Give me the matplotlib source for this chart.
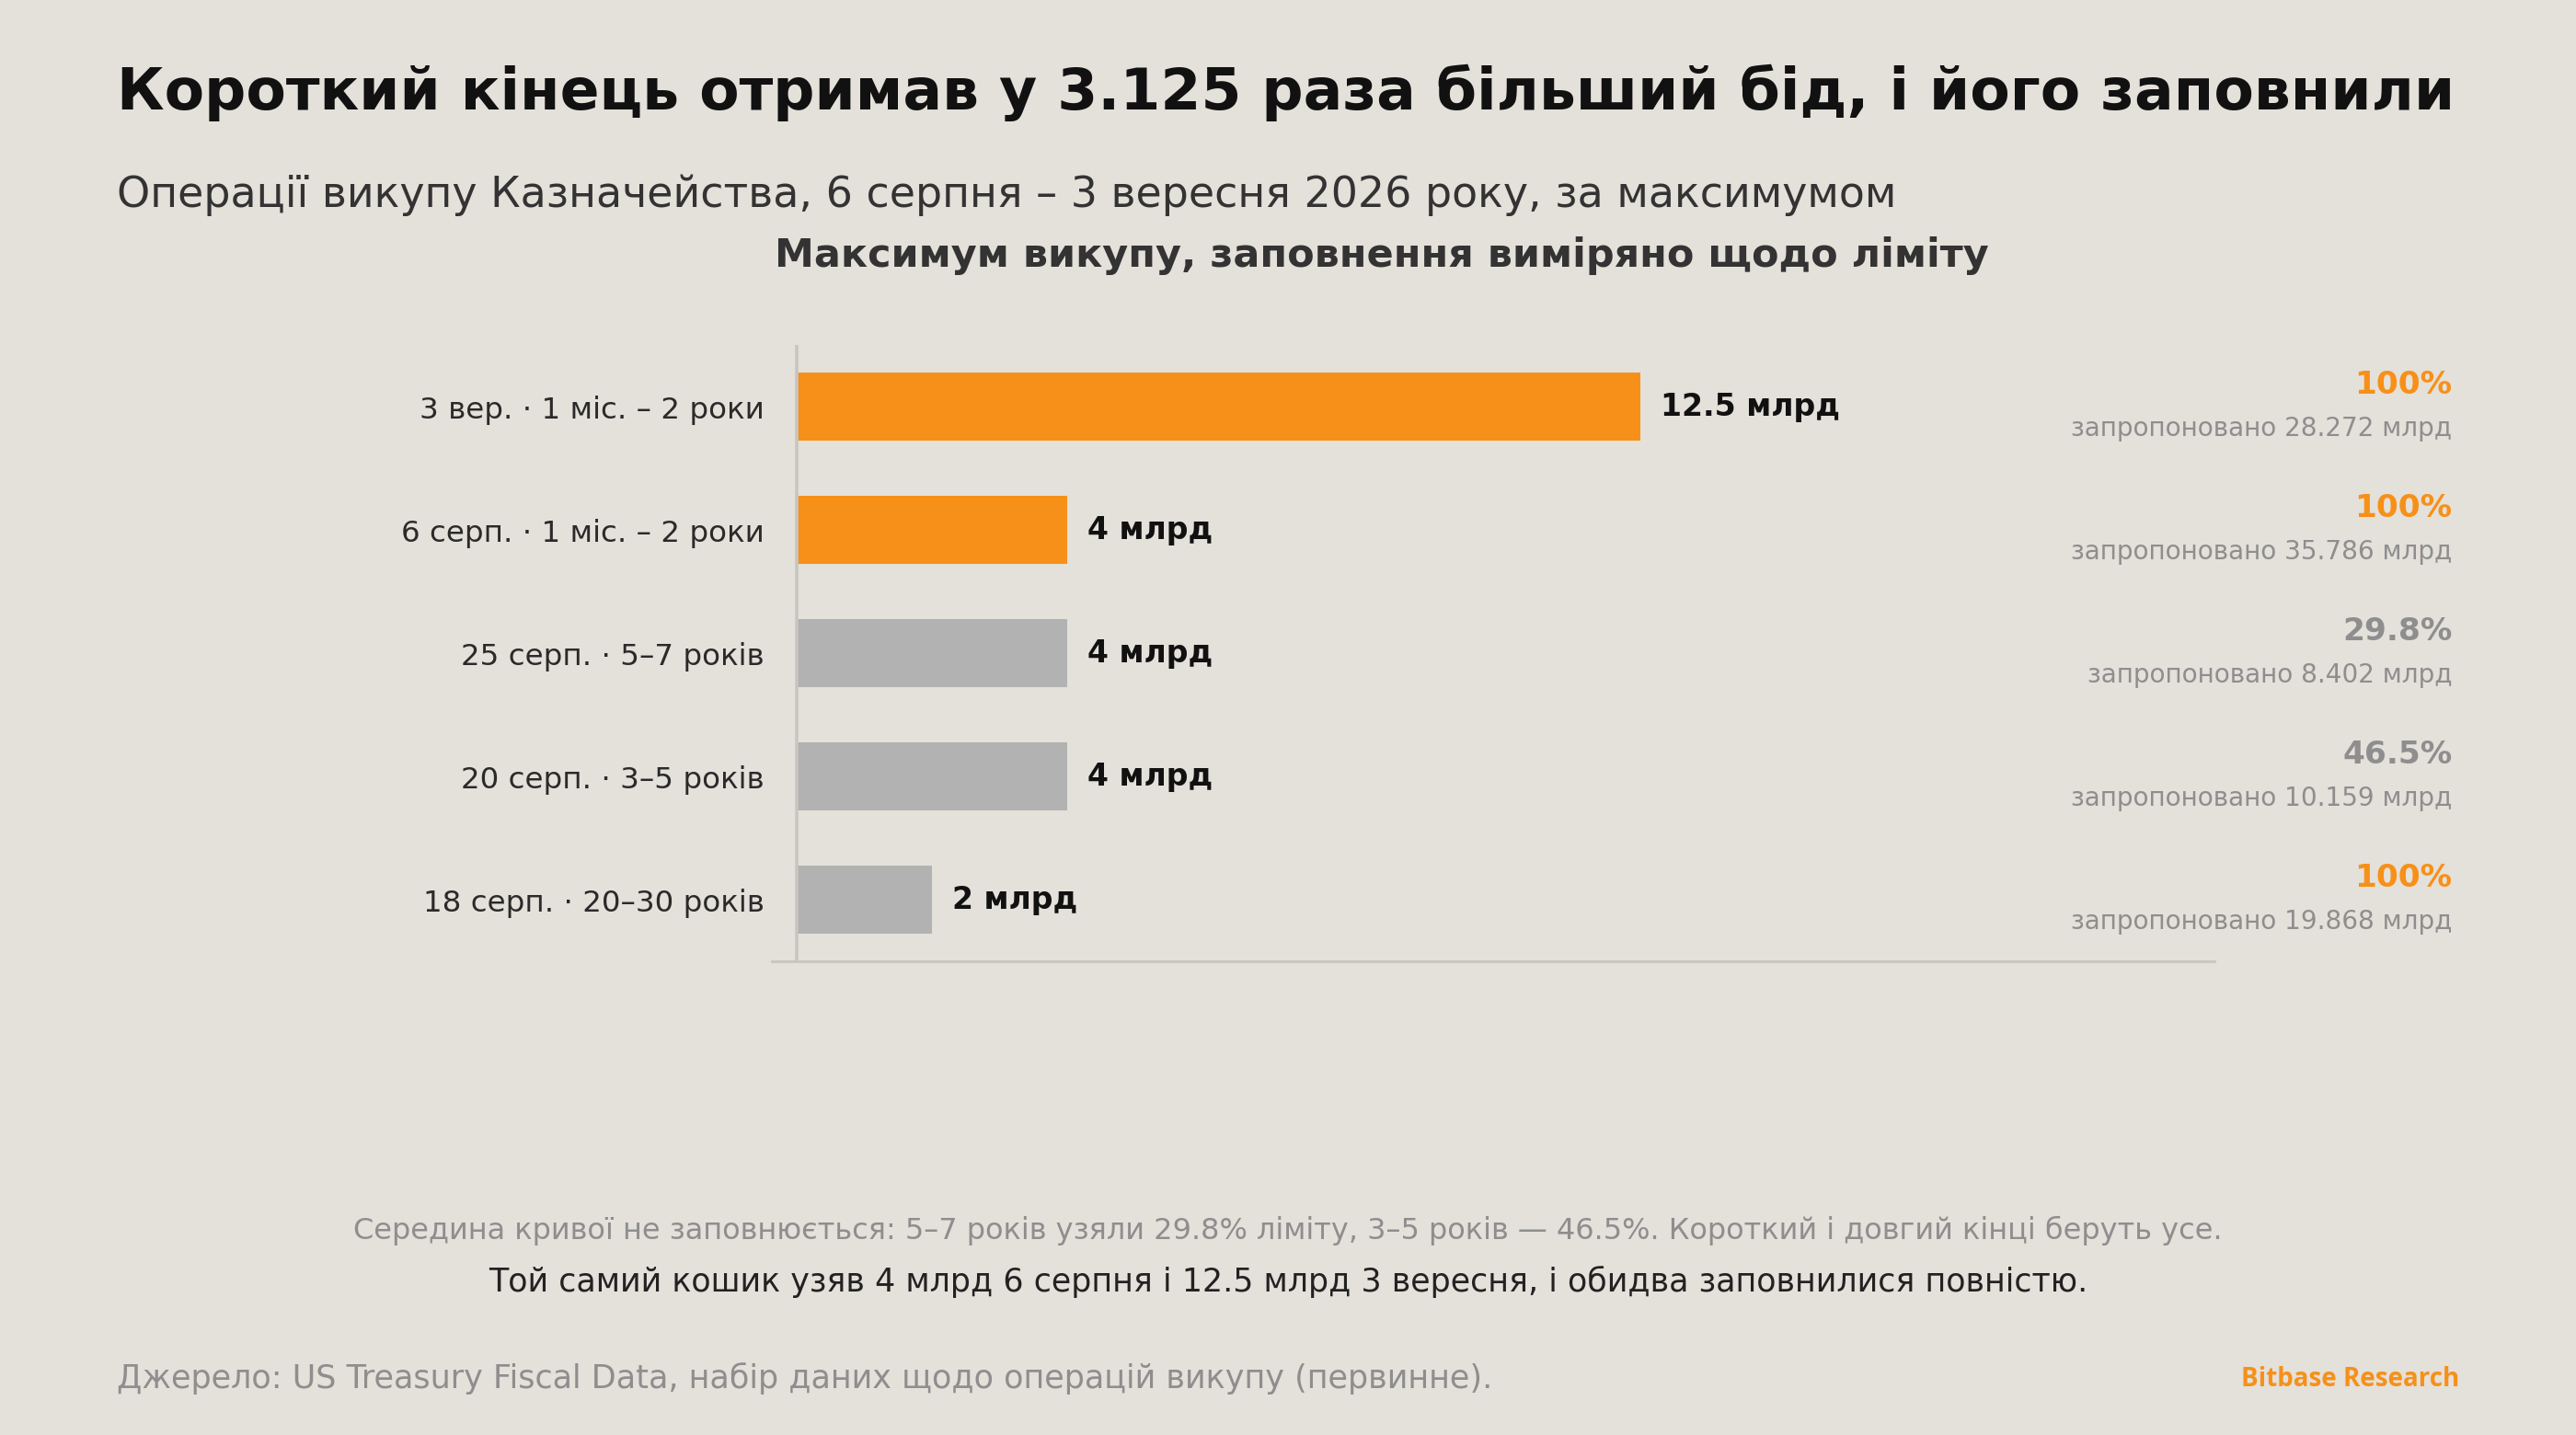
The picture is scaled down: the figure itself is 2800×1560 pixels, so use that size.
import matplotlib
matplotlib.use("Agg")
import matplotlib.pyplot as plt

plt.rcParams['font.family'] = ['DejaVu Sans']

categories = ["3 вер. · 1 міс. – 2 роки", "6 серп. · 1 міс. – 2 роки", "25 серп. · 5–7 років",
              "20 серп. · 3–5 років", "18 серп. · 20–30 років"]
accepted = [12.5, 4, 4, 4, 2]
value_labels = ["12.5 млрд", "4 млрд", "4 млрд", "4 млрд", "2 млрд"]
fill_pct = ["100%", "100%", "29.8%", "46.5%", "100%"]
offered = ["28.272", "35.786", "8.402", "10.159", "19.868"]
highlight = [True, True, False, False, True]
bar_orange = [True, True, False, False, False]

BG = "#e4e0da"
ORANGE = "#f79018"
GREY_BAR = "#b2b2b2"
GREY_TXT = "#8e8e8e"

fig = plt.figure(figsize=(14, 7.8), dpi=200, facecolor=BG)
ax = fig.add_axes([0.2996, 0.330, 0.56, 0.4296])
ax.set_facecolor(BG)

ypos = list(range(len(categories)))
colors = [ORANGE if o else GREY_BAR for o in bar_orange]
ax.barh(ypos, accepted, height=0.55, color=colors, zorder=2)
ax.set_xlim(-0.37, 21.0)
ax.set_ylim(4.5, -0.5)
ax.axvline(0, color="#c9c5bf", lw=1.3, zorder=3)
for s in ["top", "right", "left"]:
    ax.spines[s].set_visible(False)
ax.spines["bottom"].set_color("#c9c5bf")
ax.spines["bottom"].set_linewidth(1.0)
ax.set_xticks([])
ax.set_yticks(ypos)
ax.set_yticklabels(categories, fontsize=11.7, color="#2a2a2a")
ax.tick_params(axis="y", length=0, pad=3)

for y, v, lab in zip(ypos, accepted, value_labels):
    ax.text(v + 0.3, y, lab, va="center", ha="left", fontsize=11.95,
            fontweight="bold", color="#111111")

# right-hand annotations
for y, p, o, h in zip(ypos, fill_pct, offered, highlight):
    fy = ax.transData.transform((0, y))[1]
    fyf = fig.transFigure.inverted().transform((0, fy))[1]
    fig.text(0.952, fyf + 0.0150, p, ha="right", va="center", fontsize=12.4,
             fontweight="bold", color=ORANGE if h else GREY_TXT)
    fig.text(0.952, fyf - 0.0155, f"запропоновано {o} млрд", ha="right", va="center",
             fontsize=10.05, color=GREY_TXT)

fig.text(0.0455, 0.9355, "Короткий кінець отримав у 3.125 раза більший бід, і його заповнили",
         ha="left", va="center", fontsize=22.75, fontweight="bold", color="#111111")
fig.text(0.0455, 0.864, "Операції викупу Казначейства, 6 серпня – 3 вересня 2026 року, за максимумом",
         ha="left", va="center", fontsize=16.5, color="#333333")
fig.text(0.5365, 0.822, "Максимум викупу, заповнення виміряно щодо ліміту",
         ha="center", va="center", fontsize=15.5, fontweight="bold", color="#333333")

fig.text(0.5, 0.1425, "Середина кривої не заповнюється: 5–7 років узяли 29.8% ліміту, 3–5 років — 46.5%. Короткий і довгий кінці беруть усе.",
         ha="center", va="center", fontsize=11.5, color=GREY_TXT)
fig.text(0.5, 0.1068, "Той самий кошик узяв 4 млрд 6 серпня і 12.5 млрд 3 вересня, і обидва заповнилися повністю.",
         ha="center", va="center", fontsize=12.55, color="#222222")
fig.text(0.0455, 0.0395, "Джерело: US Treasury Fiscal Data, набір даних щодо операцій викупу (первинне).",
         ha="left", va="center", fontsize=12.6, color=GREY_TXT)
fig.text(0.9546, 0.039, "Bitbase Research", ha="right", va="center", fontsize=10,
         fontweight="bold", color=ORANGE, family=["Open Sans", "DejaVu Sans"])

fig.savefig("out.png", dpi=200, facecolor=BG)
